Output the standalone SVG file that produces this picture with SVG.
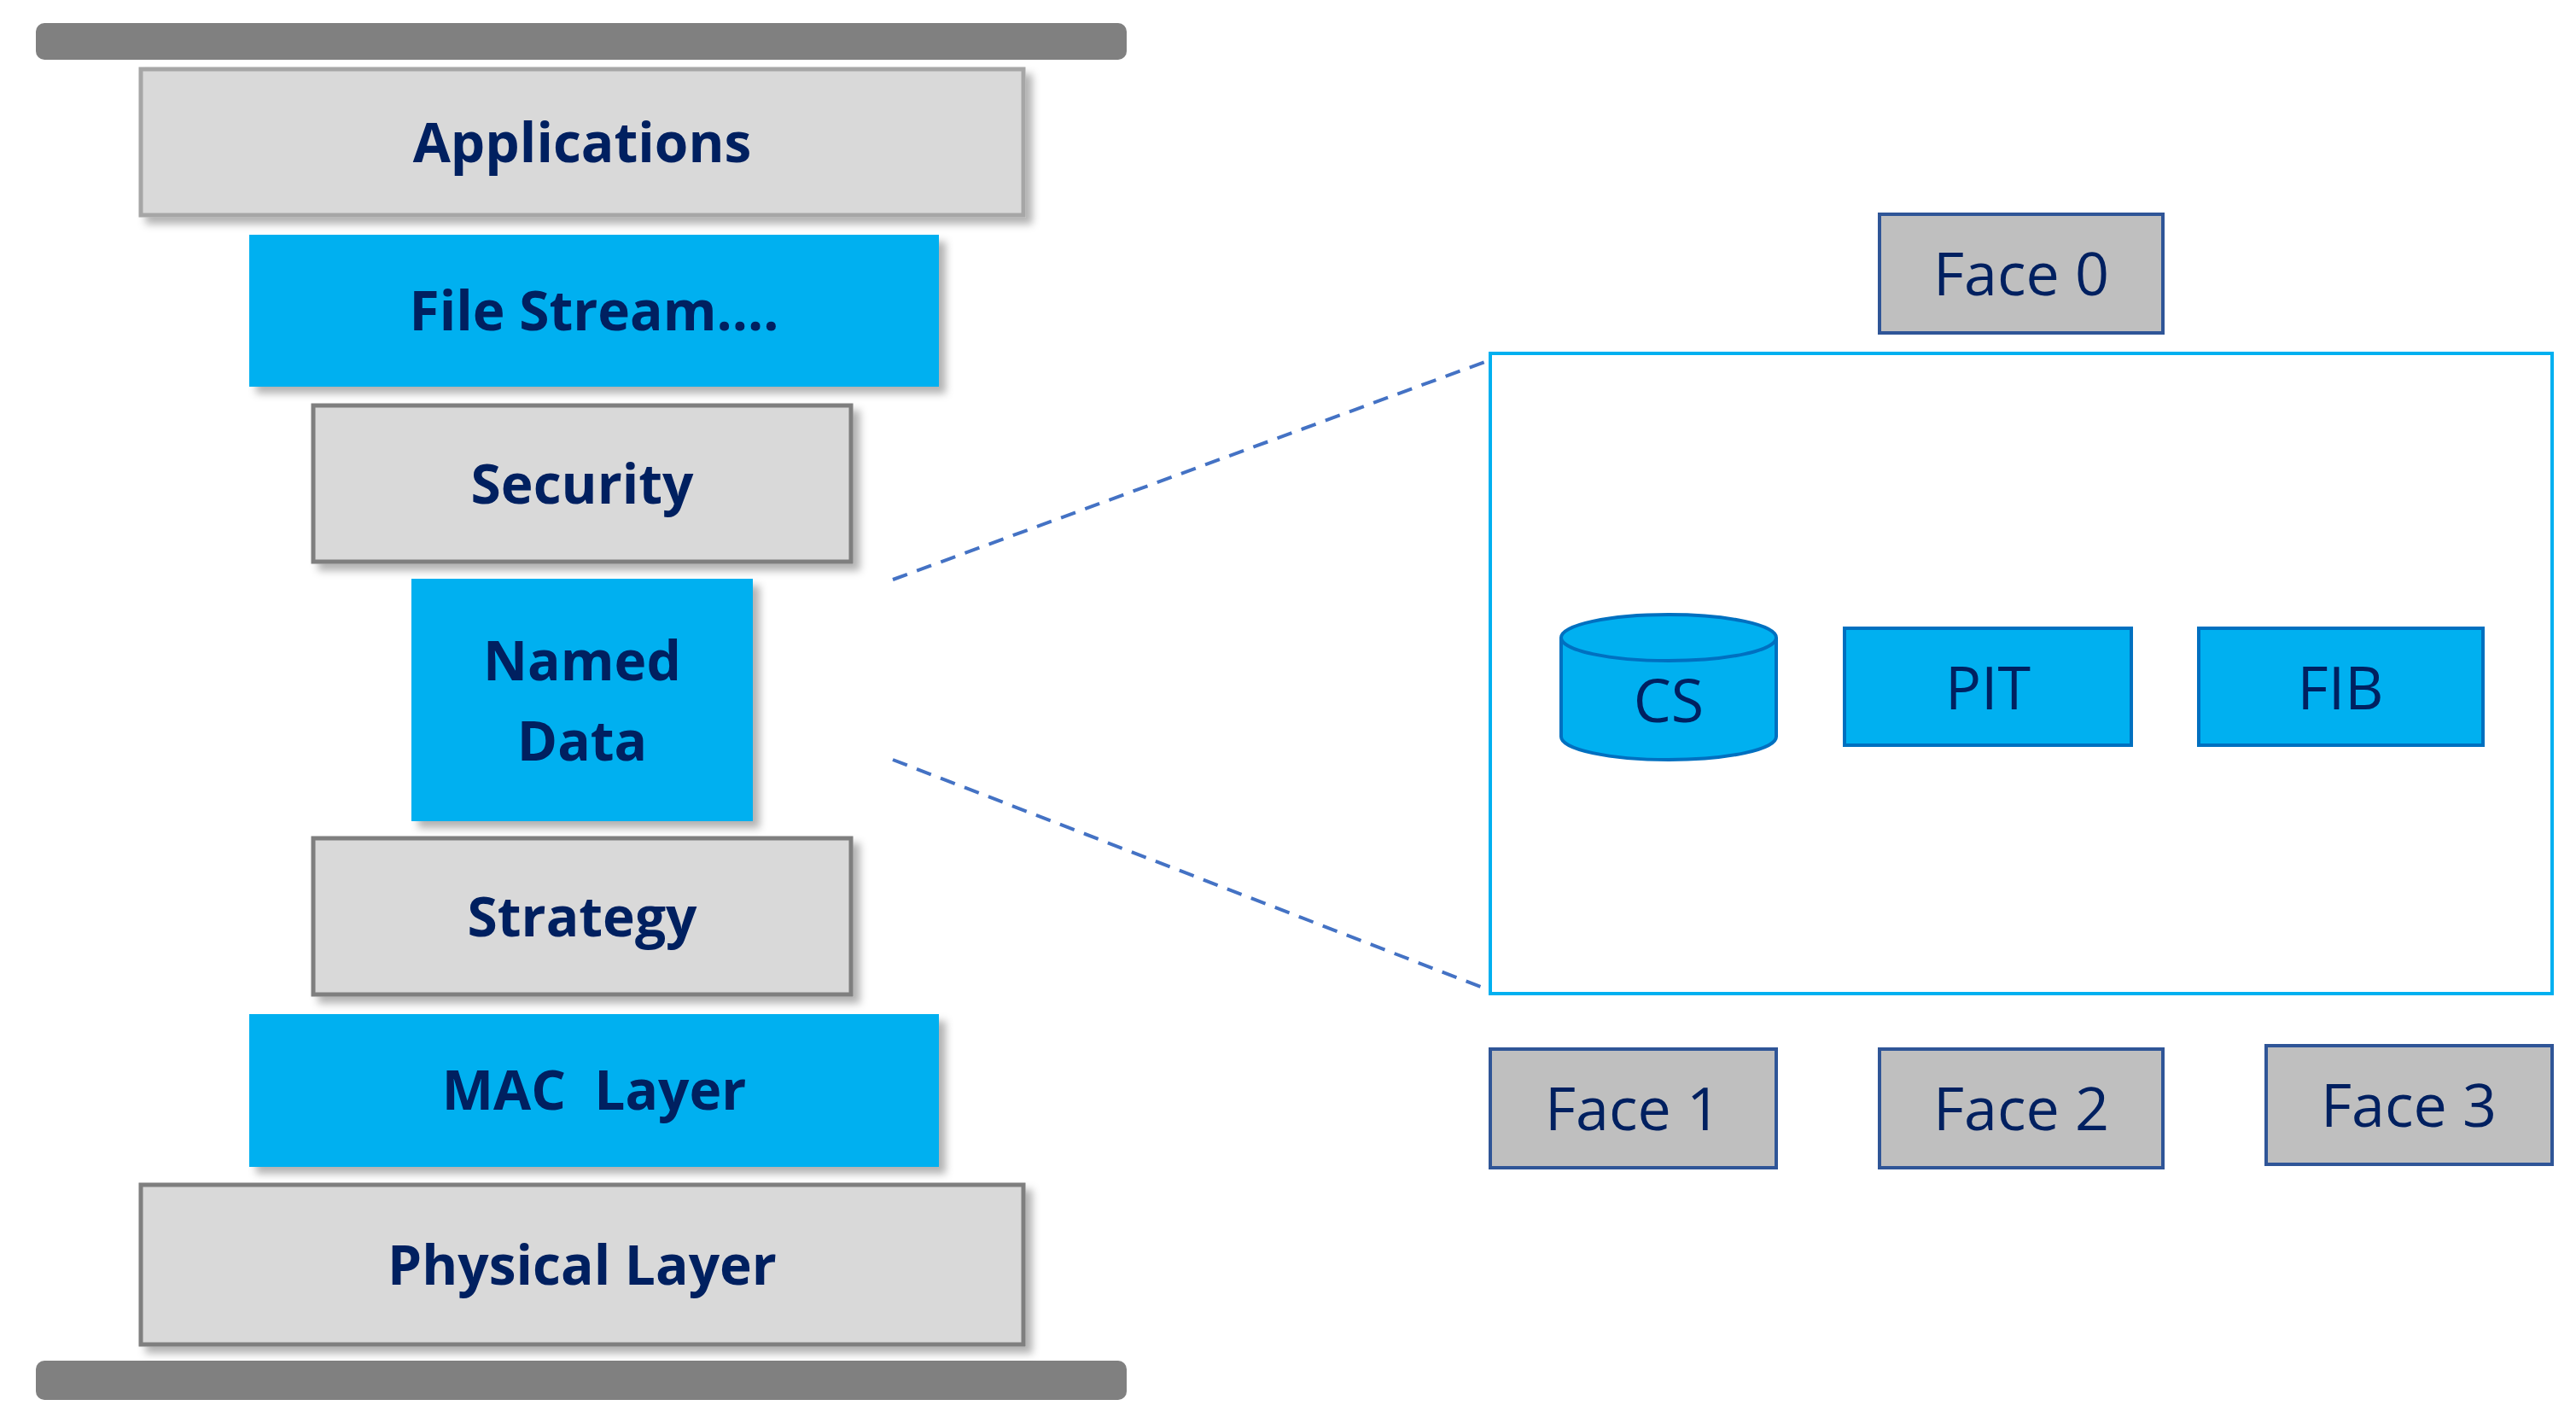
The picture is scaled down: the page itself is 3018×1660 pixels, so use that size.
<svg xmlns="http://www.w3.org/2000/svg" width="3018" height="1660" viewBox="0 0 3018 1660">
<defs>
<filter id="sh" x="-5%" y="-5%" width="115%" height="125%"><feDropShadow dx="8" dy="8" stdDeviation="5" flood-color="#000" flood-opacity="0.3"/></filter>
<style>
.bar{fill:#808080}
.g{fill:#d9d9d9;stroke:#a6a6a6;stroke-width:5}
.gs{fill:#d9d9d9;stroke:#7f7f7f;stroke-width:5}
.b{fill:#00b0f0}
.lt{font-family:"Open Sans","Liberation Sans",sans-serif;font-weight:bold;font-size:64px;fill:#002060;text-anchor:middle}
.rt{font-family:"Open Sans","Liberation Sans",sans-serif;font-size:70px;fill:#002060;text-anchor:middle}
.face{fill:#bfbfbf;stroke:#2f5597;stroke-width:4}
.tb{fill:#00b0f0;stroke:#0070c0;stroke-width:4}
.dash{stroke:#4472c4;stroke-width:4;stroke-dasharray:18 12;fill:none}
</style>
</defs>
<rect width="3018" height="1660" fill="#fff"/>
<rect class="bar" x="42" y="27" width="1278" height="43" rx="10"/>
<rect class="bar" x="42" y="1594" width="1278" height="46" rx="10"/>
<g id="applications"><rect class="g" x="165" y="81" width="1034" height="171" filter="url(#sh)"/><text class="lt" x="682" y="190">Applications</text></g>
<g id="filestream"><rect class="b" x="292" y="275" width="808" height="178" filter="url(#sh)"/><text class="lt" x="696" y="387">File Stream….</text></g>
<g id="security"><rect class="gs" x="367" y="475" width="630" height="183" filter="url(#sh)"/><text class="lt" x="682" y="590">Security</text></g>
<g id="nameddata"><rect class="b" x="482" y="678" width="400" height="284" filter="url(#sh)"/><text class="lt" x="682" y="797">Named</text><text class="lt" x="682" y="891">Data</text></g>
<g id="strategy"><rect class="gs" x="367" y="982" width="630" height="183" filter="url(#sh)"/><text class="lt" x="682" y="1097">Strategy</text></g>
<g id="mac"><rect class="b" x="292" y="1188" width="808" height="179" filter="url(#sh)"/><text class="lt" x="696" y="1300" xml:space="preserve">MAC  Layer</text></g>
<g id="physical"><rect class="gs" x="165" y="1388" width="1034" height="187" filter="url(#sh)"/><text class="lt" x="682" y="1505">Physical Layer</text></g>
<g id="connectors">
<line class="dash" x1="1046" y1="679" x2="1745" y2="422"/>
<line class="dash" x1="1046" y1="890" x2="1745" y2="1160"/>
</g>
<g id="forwarder"><rect x="1746" y="414" width="1244" height="750" fill="none" stroke="#00b0f0" stroke-width="4"/></g>
<g id="face0"><rect class="face" x="2202" y="251" width="332" height="139"/><text class="rt" x="2368" y="346">Face 0</text></g>
<g id="cs"><path class="tb" d="M1829 747 V863 A126 27 0 0 0 2081 863 V747"/><ellipse class="tb" cx="1955" cy="747" rx="126" ry="27"/><text class="rt" x="1955" y="846">CS</text></g>
<g id="pit"><rect class="tb" x="2161" y="736" width="336" height="137"/><text class="rt" x="2329" y="831">PIT</text></g>
<g id="fib"><rect class="tb" x="2576" y="736" width="333" height="137"/><text class="rt" x="2742" y="831">FIB</text></g>
<g id="face1"><rect class="face" x="1746" y="1229" width="335" height="139"/><text class="rt" x="1913" y="1324">Face 1</text></g>
<g id="face2"><rect class="face" x="2202" y="1229" width="332" height="139"/><text class="rt" x="2368" y="1324">Face 2</text></g>
<g id="face3"><rect class="face" x="2655" y="1225" width="335" height="139"/><text class="rt" x="2822" y="1320">Face 3</text></g>
</svg>
